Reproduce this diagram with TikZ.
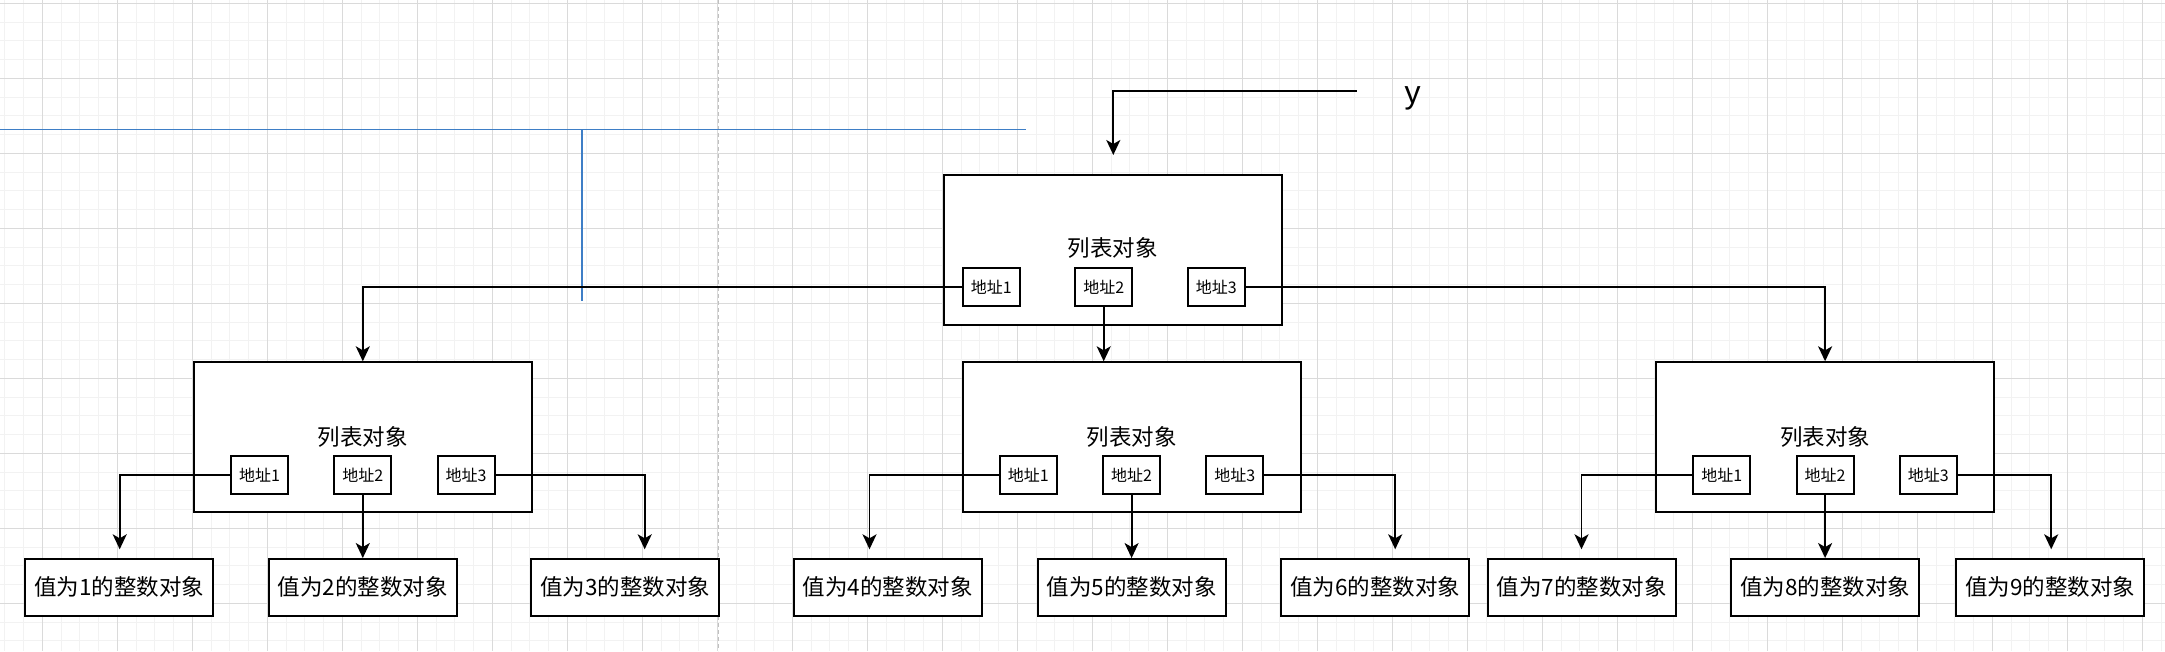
\documentclass[tikz,border=0pt]{standalone}
\usepackage{fontspec}
\setmainfont{Liberation Sans}
\newfontfamily\cjk{Noto Sans CJK SC}
\usetikzlibrary{arrows.meta}
\definecolor{gridmajor}{RGB}{218,218,218}
\definecolor{gridminor}{RGB}{242,242,242}
\definecolor{pagebreak}{RGB}{192,192,192}
\definecolor{guideblue}{RGB}{62,126,198}
\tikzset{
  minorline/.style={draw=gridminor,line width=1pt},
  majorline/.style={draw=gridmajor,line width=1pt},
  listbox/.style={draw=black,line width=2pt,fill=white,rectangle,inner sep=0pt,minimum width=338pt,minimum height=150pt},
  addrbox/.style={draw=black,line width=1.9pt,fill=white,rectangle,inner sep=0pt,minimum width=57pt,minimum height=38pt,font=\cjk\fontsize{16}{18}\selectfont},
  intbox/.style={draw=black,line width=2pt,fill=white,rectangle,inner sep=0pt,minimum width=188pt,minimum height=56.5pt,font=\cjk\fontsize{22.5}{26}\selectfont},
  listlabel/.style={font=\cjk\fontsize{22.5}{26}\selectfont,inner sep=0pt},
  conn/.style={draw=black,line width=1.9pt,-{Stealth[length=15pt,width=14pt,inset=4pt]}},
}
\begin{document}
\begin{tikzpicture}[x=1pt,y=-1pt]
\useasboundingbox (0,0) rectangle (2165,651);
\fill[white] (0,0) rectangle (2165,651);
% grid
\foreach \i in {0,...,115} {\draw[minorline] ({4.8+18.75*\i},0) -- ({4.8+18.75*\i},651);}
\foreach \i in {0,...,34} {\draw[minorline] (0,{3.3+18.75*\i}) -- (2165,{3.3+18.75*\i});}
\foreach \i in {0,...,28} {\draw[majorline] ({42.3+75*\i},0) -- ({42.3+75*\i},651);}
\foreach \i in {0,...,8} {\draw[majorline] (0,{3.3+75*\i}) -- (2165,{3.3+75*\i});}
\draw[pagebreak,line width=1.3pt,dash pattern=on 4pt off 3pt] (718.3,0) -- (718.3,651);
% blue guides
\coordinate (bA) at (0,129.3);
\coordinate (bB) at (1026,129.3);
\coordinate (bC) at (581.7,129.3);
\coordinate (bD) at (581.7,301);
\draw[guideblue,line width=1.6pt] (bA) -- (bB);
\draw[guideblue,line width=1.6pt] (bC) -- (bD);

% top list
\node[listbox] (top) at (1112.5,249.7) {};
\node[listlabel] (toplab) at (1112.5,248) {列表对象};
\node[addrbox] (t1) at (991.2,287.2) {地址1};
\node[addrbox] (t2) at (1103.7,287.2) {地址2};
\node[addrbox] (t3) at (1216.3,287.2) {地址3};

% y label and arrow
\node[font=\fontsize{32}{36}\selectfont,anchor=base,inner sep=0pt] (ylab) at (1412.7,103.3) {y};
\coordinate (ys) at (1356.7,90.7);
\coordinate (ye) at (1113.3,155);
\draw[conn] (ys) -| (ye);

% second row lists
\foreach \n/\cx in {l/362.8,m/1131.6,r/1825.1} {
  \node[listbox] (\n) at (\cx,437.3) {};
  \node[listlabel] (\n lab) at (\cx,436.7) {列表对象};
  \node[addrbox] (\n1) at (\cx-103.3,474.9) {地址1};
  \node[addrbox] (\n2) at (\cx,474.9) {地址2};
  \node[addrbox] (\n3) at (\cx+103.3,474.9) {地址3};
}

% top connectors
\draw[conn] (t1.west) -| (l.north);
\draw[conn] (t2.south) -- (t2.south |- m.north);
\draw[conn] (t3.east) -| (r.north);

% integer objects
\node[intbox] (v1) at (119.3,587.3) {值为1的整数对象};
\node[intbox] (v2) at (362.8,587.3) {值为2的整数对象};
\node[intbox] (v3) at (625.3,587.3) {值为3的整数对象};
\node[intbox] (v4) at (887.6,587.3) {值为4的整数对象};
\node[intbox] (v5) at (1131.6,587.3) {值为5的整数对象};
\node[intbox] (v6) at (1375.2,587.3) {值为6的整数对象};
\node[intbox] (v7) at (1581.5,587.3) {值为7的整数对象};
\node[intbox] (v8) at (1825.1,587.3) {值为8的整数对象};
\node[intbox] (v9) at (2050.3,587.3) {值为9的整数对象};

% lower connectors
\coordinate (e1) at (119.7,549.3);
\coordinate (e3) at (644.7,549.3);
\coordinate (e4) at (869.5,549.3);
\coordinate (e6) at (1395.2,549.3);
\coordinate (e7) at (1581.5,549.3);
\coordinate (e9) at (2051.2,549.3);
\draw[conn] (l1.west) -| (e1);
\draw[conn] (l2.south) -- (v2.north);
\draw[conn] (l3.east) -| (e3);
\draw[conn] (m1.west) -| (e4);
\draw[conn] (m2.south) -- (v5.north);
\draw[conn] (m3.east) -| (e6);
\draw[conn] (r1.west) -| (e7);
\draw[conn] (r2.south) -- (v8.north);
\draw[conn] (r3.east) -| (e9);
\end{tikzpicture}
\end{document}
